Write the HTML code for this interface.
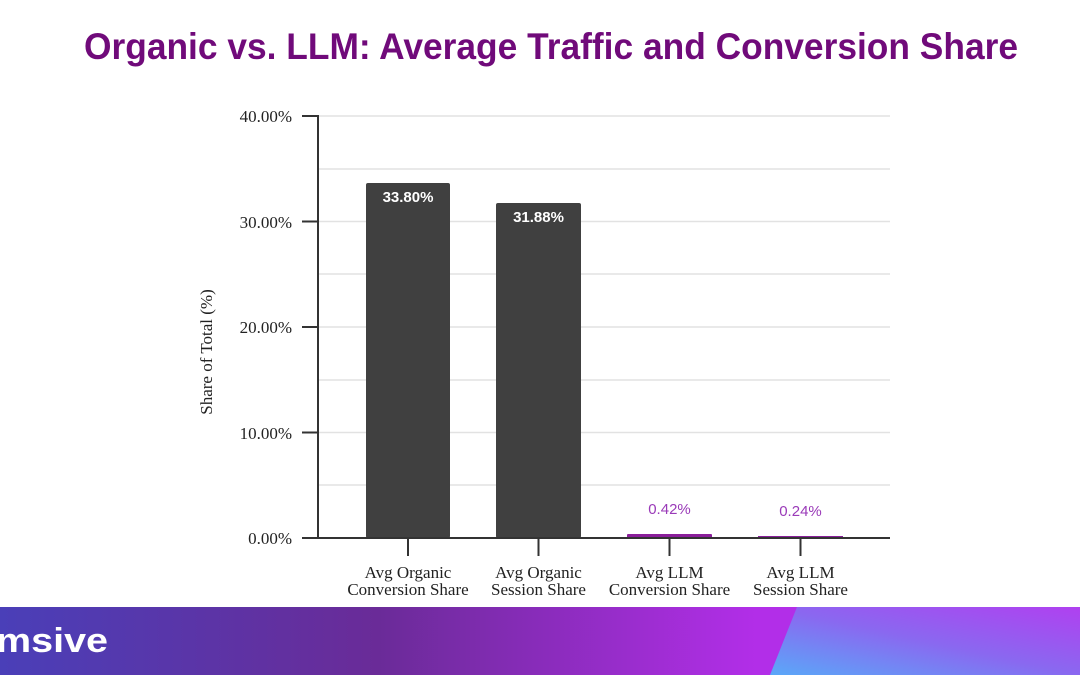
<!DOCTYPE html>
<html><head><meta charset="utf-8"><style>html,body{margin:0;padding:0;background:#fff}svg{display:block}</style></head><body>
<svg width="1080" height="675" viewBox="0 0 1080 675" xmlns="http://www.w3.org/2000/svg">
<defs>
<linearGradient id="g1" x1="0" y1="0" x2="1" y2="0">
<stop offset="0" stop-color="#4a3fb8"/><stop offset="0.35" stop-color="#6a2b98"/><stop offset="0.7" stop-color="#b22ee8"/><stop offset="1" stop-color="#b22ee8"/></linearGradient>
<linearGradient id="g2" x1="0" y1="1" x2="1" y2="0">
<stop offset="0" stop-color="#5aa8f8"/><stop offset="0.5" stop-color="#8a68f0"/><stop offset="1" stop-color="#b040f0"/></linearGradient>
</defs>
<text x="84" y="59" font-family="'Liberation Sans Narrow','Liberation Sans',sans-serif" font-weight="bold" font-size="37" fill="#700a7a" textLength="934" lengthAdjust="spacingAndGlyphs">Organic vs. LLM: Average Traffic and Conversion Share</text>
<g stroke="#e2e2e2" stroke-width="1.5">
<line x1="318" x2="890" y1="116" y2="116"/><line x1="318" x2="890" y1="169" y2="169"/><line x1="318" x2="890" y1="221.5" y2="221.5"/><line x1="318" x2="890" y1="274" y2="274"/><line x1="318" x2="890" y1="327" y2="327"/><line x1="318" x2="890" y1="380" y2="380"/><line x1="318" x2="890" y1="432.5" y2="432.5"/><line x1="318" x2="890" y1="485" y2="485"/>
</g>
<rect x="366" y="183" width="84" height="355" rx="2" fill="#404040"/>
<rect x="496" y="203" width="85" height="335" rx="2" fill="#404040"/>
<rect x="627" y="534" width="85" height="4" rx="1" fill="#8a1e9a"/>
<rect x="758" y="536" width="85" height="2" fill="#8a1e9a"/>
<g stroke="#333" stroke-width="2" fill="none">
<line x1="318" y1="115" x2="318" y2="539"/>
<line x1="317" y1="538" x2="890" y2="538"/>
<line x1="302" x2="318" y1="116" y2="116"/><line x1="302" x2="318" y1="221.5" y2="221.5"/><line x1="302" x2="318" y1="327" y2="327"/><line x1="302" x2="318" y1="432.5" y2="432.5"/><line x1="302" x2="318" y1="538" y2="538"/>
<line x1="408" x2="408" y1="538" y2="556"/><line x1="538.5" x2="538.5" y1="538" y2="556"/><line x1="669.5" x2="669.5" y1="538" y2="556"/><line x1="800.5" x2="800.5" y1="538" y2="556"/>
</g>
<g font-family="'Liberation Serif',serif" font-size="17" fill="#222" text-anchor="end">
<text x="292" y="122">40.00%</text><text x="292" y="228">30.00%</text><text x="292" y="333">20.00%</text><text x="292" y="439">10.00%</text><text x="292" y="544">0.00%</text>
</g>
<text transform="translate(212,352) rotate(-90)" font-family="'Liberation Serif',serif" font-size="17" fill="#222" text-anchor="middle">Share of Total (%)</text>
<g font-family="'Liberation Serif',serif" font-size="17" fill="#222" text-anchor="middle">
<text x="408" y="578">Avg Organic</text><text x="408" y="595">Conversion Share</text>
<text x="538.5" y="578">Avg Organic</text><text x="538.5" y="595">Session Share</text>
<text x="669.5" y="578">Avg LLM</text><text x="669.5" y="595">Conversion Share</text>
<text x="800.5" y="578">Avg LLM</text><text x="800.5" y="595">Session Share</text>
</g>
<g font-family="'Liberation Sans',sans-serif" font-size="15" text-anchor="middle">
<text x="408" y="202" fill="#fff" font-weight="bold">33.80%</text>
<text x="538.5" y="222" fill="#fff" font-weight="bold">31.88%</text>
<text x="669.5" y="514" fill="#9a3ab8">0.42%</text>
<text x="800.5" y="516" fill="#9a3ab8">0.24%</text>
</g>
<rect x="0" y="607" width="1080" height="68" fill="url(#g1)"/>
<polygon points="797,607 1080,607 1080,675 770,675" fill="url(#g2)"/>
<text x="-4" y="652" font-family="'Liberation Sans',sans-serif" font-weight="bold" font-size="34" fill="#fff" textLength="112" lengthAdjust="spacingAndGlyphs">msive</text>
</svg>
</body></html>
